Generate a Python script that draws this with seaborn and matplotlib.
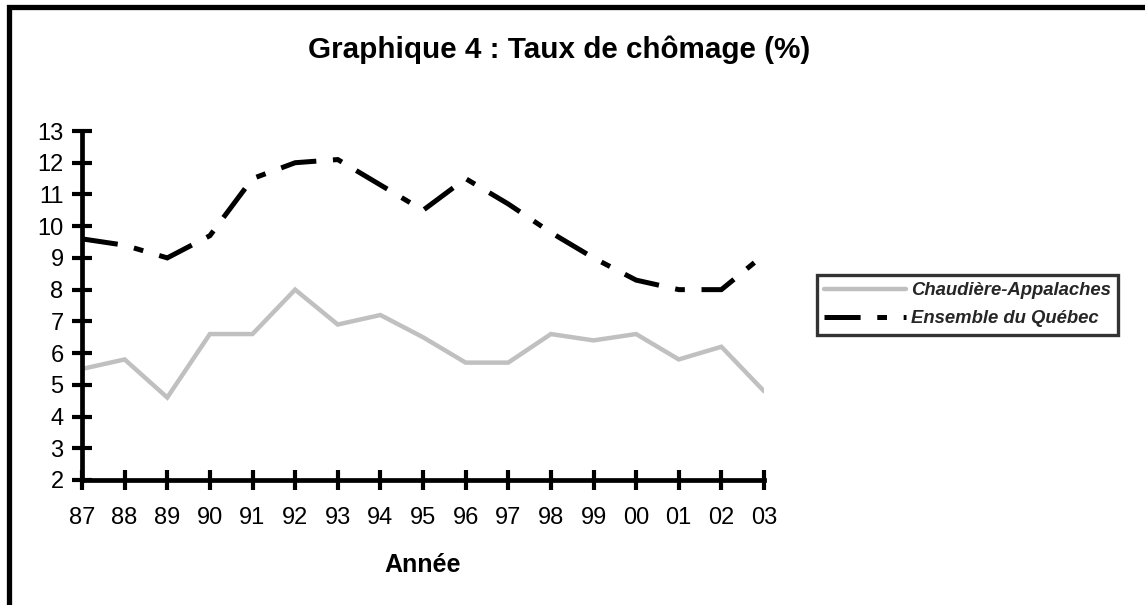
import matplotlib
matplotlib.use("Agg")
import matplotlib.pyplot as plt
import seaborn as sns
import pandas as pd
from matplotlib.patches import Rectangle
from matplotlib.lines import Line2D

years = list(range(1987, 2004))
year_labels = ["87", "88", "89", "90", "91", "92", "93", "94", "95", "96",
               "97", "98", "99", "00", "01", "02", "03"]
chaudiere = [5.5, 5.8, 4.6, 6.6, 6.6, 8.0, 6.9, 7.2, 6.5, 5.7, 5.7, 6.6, 6.4, 6.6, 5.8, 6.2, 4.8]
quebec = [9.6, 9.4, 9.0, 9.7, 11.5, 12.0, 12.1, 11.3, 10.5, 11.5, 10.7, 9.8, 9.0, 8.3, 8.0, 8.0, 9.1]
series_names = ["Chaudière-Appalaches", "Ensemble du Québec"]
y_ticks = list(range(2, 14))

sns.set_theme(style="white")
plt.rcParams["font.family"] = ["Liberation Sans", "DejaVu Sans"]
plt.rcParams["lines.scale_dashes"] = False

df = pd.DataFrame({
    "Année": years * 2,
    "Taux": chaudiere + quebec,
    "Série": [series_names[0]] * len(years) + [series_names[1]] * len(years),
})

fig = plt.figure(figsize=(11.45, 6.05), dpi=100)
ax = fig.add_axes([82 / 1145, 1 - 480 / 605, (764 - 82) / 1145, (480 - 131) / 605])

dash_q = (26, 12, 7, 12)
sns.lineplot(data=df, x="Année", y="Taux", hue="Série", style="Série",
             palette={series_names[0]: "#C0C0C0", series_names[1]: "black"},
             dashes={series_names[0]: "", series_names[1]: dash_q},
             ax=ax, legend=False, sort=False)
lines = ax.get_lines()
lines[0].set_linewidth(3.2)
lines[1].set_linewidth(3.6)
lines[1].set_dash_capstyle("butt")
for ln in lines:
    ln.set_solid_joinstyle("miter")
    ln.set_dash_joinstyle("miter")

ax.set_xlim(years[0], years[-1])
ax.set_ylim(y_ticks[0], y_ticks[-1])
ax.set_xticks(years)
ax.set_xticklabels(year_labels)
ax.set_yticks(y_ticks)
ax.set_yticklabels([str(t) for t in y_ticks])

for side in ["top", "right"]:
    ax.spines[side].set_visible(False)
for side in ["left", "bottom"]:
    ax.spines[side].set_visible(True)
    ax.spines[side].set_color("black")
    ax.spines[side].set_linewidth(3.4)
ax.tick_params(axis="both", direction="inout", length=14.5, width=3.0,
               color="black", labelsize=17, labelcolor="black")
ax.tick_params(axis="x", pad=12, bottom=True)
ax.tick_params(axis="y", pad=6, left=True)
ax.set_facecolor("white")

ax.set_ylabel("")
ax.set_xlabel("Année", fontsize=18, fontweight="bold", color="black")
ax.xaxis.label.set_va("baseline")
ax.xaxis.set_label_coords(0.5, (480 - 572) / 349)

fig.text(559 / 1145, 1 - 58 / 605, "Graphique 4 : Taux de chômage (%)",
         ha="center", va="baseline", fontsize=21.3, fontweight="bold", color="black")

handles = [Line2D([], [], color="#C0C0C0", lw=3.2),
           Line2D([], [], color="black", lw=3.6, dashes=dash_q)]
leg = fig.legend(handles, series_names, loc="upper left",
                 bbox_to_anchor=(817 / 1145, 1 - 275 / 605),
                 bbox_transform=fig.transFigure,
                 prop={"size": 13.3, "weight": "bold", "style": "italic"},
                 frameon=True, fancybox=False, shadow=False,
                 handlelength=4.4, handletextpad=0.3, borderpad=0.4,
                 labelspacing=0.6, borderaxespad=0)
leg.get_frame().set_edgecolor("black")
leg.get_frame().set_linewidth(2.4)

fig.patches.append(Rectangle((8.5 / 1145, -0.2), 1.2, 1 - 6.5 / 605 + 0.2,
                             transform=fig.transFigure, fill=False,
                             edgecolor="black", linewidth=3.8, zorder=10))

fig.savefig("out.png", dpi=100, facecolor="white")
